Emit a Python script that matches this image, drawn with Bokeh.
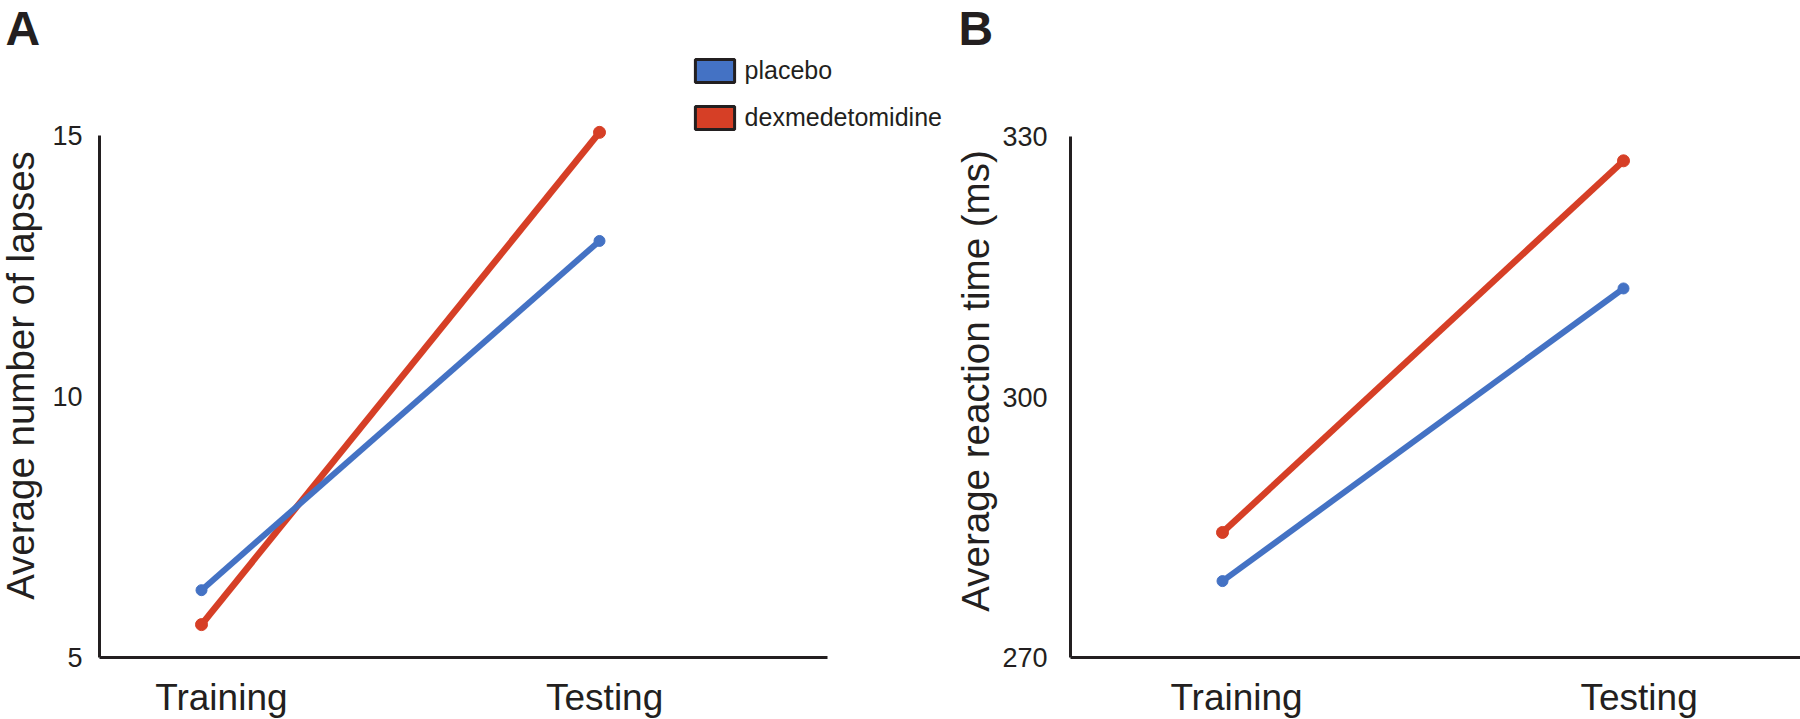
import math
from bokeh.plotting import figure
from bokeh.layouts import row
from bokeh.models import (ColumnDataSource, Label, Legend, LegendItem,
                          FixedTicker, Range1d)
from bokeh.embed import file_html
from bokeh.resources import INLINE

# ---------------- data ----------------
categories = ["Training", "Testing"]
series_names = ["placebo", "dexmedetomidine"]
lapses_placebo = [6.29, 12.98]
lapses_dex = [5.63, 15.06]
rt_placebo = [278.8, 312.5]
rt_dex = [284.4, 327.2]
lapses_ticks = [5, 10, 15]
rt_ticks = [270, 300, 330]

# ---------------- style ----------------
BLUE = "#4472C4"
RED = "#D63F26"
INK = "#231F20"
FONT = "Liberation Sans"
H = 719  # figure height


def make_panel(width, px_cat0, px_per_cat, px_axis_x, px_axis_right,
               ymin, ymax, px_ymin, px_ymax, yticks, ystandoff,
               label_shift, ylabel, ylabel_xy, panel_letter, letter_xy,
               placebo, dex):
    # pixel layout (canvas coords, y from top) -> data ranges
    x0 = -px_cat0 / px_per_cat
    x1 = (width - px_cat0) / px_per_cat
    ppu = (px_ymin - px_ymax) / (ymax - ymin)
    y0 = ymin - (H - px_ymin) / ppu
    y1 = ymax + px_ymax / ppu
    axis_x = (px_axis_x - px_cat0) / px_per_cat
    axis_xr = (px_axis_right - px_cat0) / px_per_cat

    p = figure(width=width, height=H, output_backend="svg",
               toolbar_location=None, x_range=Range1d(x0, x1),
               y_range=Range1d(y0, y1), min_border=0, min_border_left=0,
               min_border_right=0, min_border_top=0, min_border_bottom=0)
    p.title.visible = False
    p.outline_line_color = None
    p.grid.visible = False
    p.background_fill_color = "white"
    p.border_fill_color = "white"

    xs = list(range(len(categories)))
    tick_pos = [i + s for i, s in zip(xs, label_shift)]
    p.xaxis.ticker = FixedTicker(ticks=tick_pos)
    p.xaxis.major_label_overrides = {t: c for t, c in zip(tick_pos, categories)}
    p.xaxis.fixed_location = ymin
    p.xaxis.bounds = (axis_x, axis_xr)
    p.yaxis.ticker = FixedTicker(ticks=yticks)
    p.yaxis.fixed_location = axis_x
    p.yaxis.bounds = (ymin, ymax)

    for ax in (p.xaxis, p.yaxis):
        ax.axis_line_width = 3
        ax.axis_line_color = INK
        ax.major_tick_line_color = None
        ax.minor_tick_line_color = None
        ax.major_label_text_color = INK
        ax.major_label_text_font = FONT
    p.xaxis.major_label_text_font_size = "37px"
    p.xaxis.major_label_standoff = 13
    p.yaxis.major_label_text_font_size = "27px"
    p.yaxis.major_label_standoff = ystandoff

    src_d = ColumnDataSource(dict(x=xs, y=dex))
    src_p = ColumnDataSource(dict(x=xs, y=placebo))
    p.line("x", "y", source=src_d, line_color=RED, line_width=6.5)
    p.scatter("x", "y", source=src_d, size=12, color=RED)
    p.line("x", "y", source=src_p, line_color=BLUE, line_width=6)
    p.scatter("x", "y", source=src_p, size=11, color=BLUE)

    p.add_layout(Label(x=ylabel_xy[0], y=ylabel_xy[1], x_units="screen",
                       y_units="screen", text=ylabel, angle=math.pi / 2,
                       text_align="center", text_baseline="alphabetic",
                       text_font=FONT, text_font_size="38.5px",
                       text_color=INK))
    p.add_layout(Label(x=letter_xy[0], y=letter_xy[1], x_units="screen",
                       y_units="screen", text=panel_letter,
                       text_align="left", text_baseline="alphabetic",
                       text_font=FONT, text_font_style="bold",
                       text_font_size="48px", text_color=INK))
    return p


# left panel occupies x 0..950, right panel x 950..1800
p1 = make_panel(950, 201, 398, 99, 827, 5, 15, 657, 135,
                lapses_ticks, 11, [0.05, 0.013],
                "Average number of lapses", (19.5, 344), "A", (5, 691),
                lapses_placebo, lapses_dex)

p2 = make_panel(850, 272, 401, 120, 850, 270, 330, 657, 136,
                rt_ticks, 17, [0.035, 0.039],
                "Average reaction time (ms)", (24.5, 338.5), "B", (8, 691),
                rt_placebo, rt_dex)

# legend (dummy area renderers give filled boxes with dark outline)
leg_items = []
for name, col in zip(series_names, [BLUE, RED]):
    r = p1.rect(x=[float("nan")], y=[float("nan")], width=1, height=1,
                fill_color=col, line_color=INK, line_width=3)
    leg_items.append(LegendItem(label=name, renderers=[r]))

legend = Legend(items=leg_items, location=(689.6, 587),
                orientation="vertical", glyph_width=49, glyph_height=29,
                label_height=29, label_standoff=6, spacing=18, padding=0,
                margin=0, border_line_color=None, background_fill_alpha=0,
                label_text_font=FONT, label_text_font_size="25px",
                label_text_color=INK)
p1.add_layout(legend)

layout = row(p1, p2)
open("out.html", "w").write(file_html(layout, INLINE))
